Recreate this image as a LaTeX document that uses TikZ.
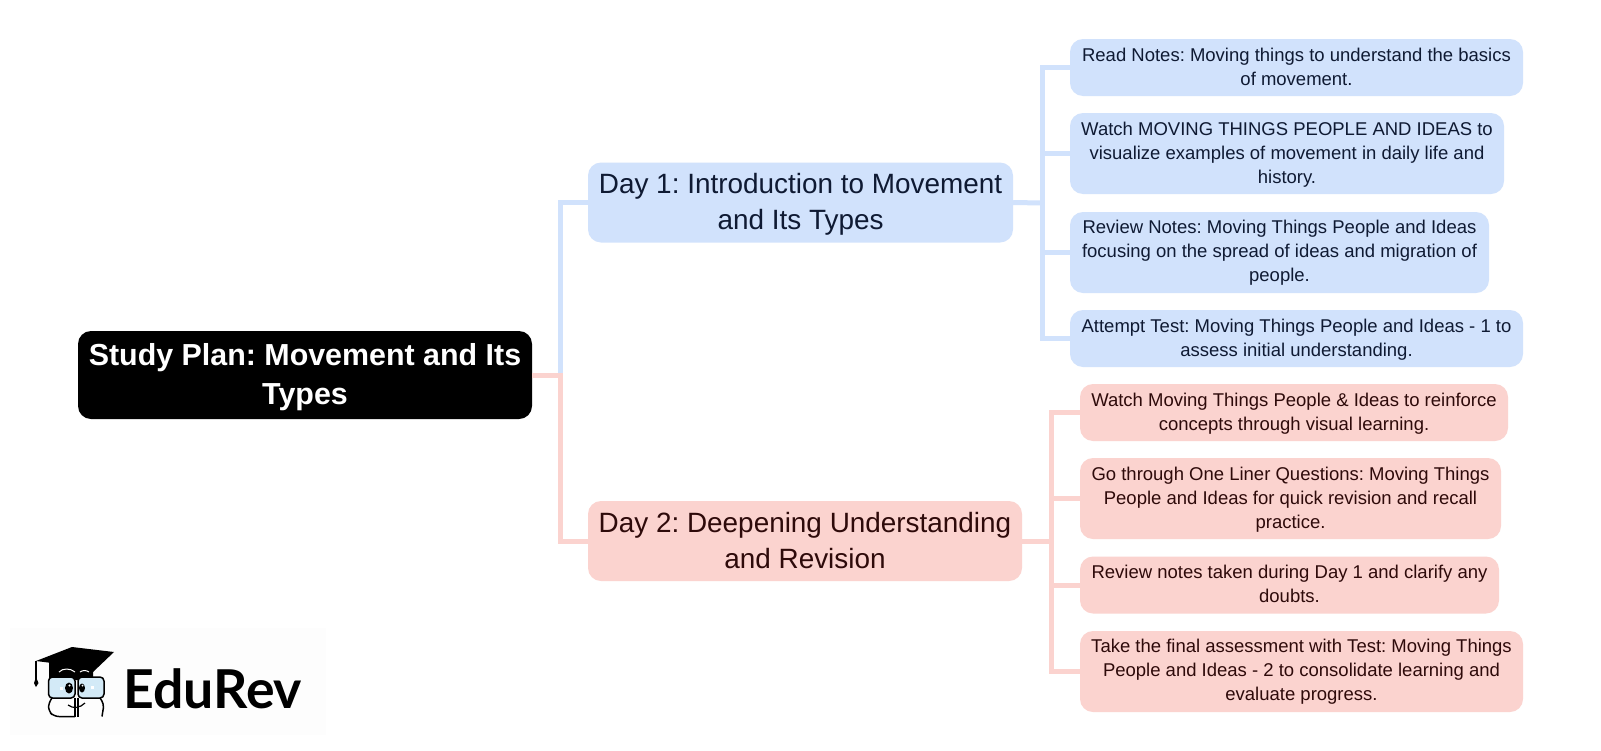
\documentclass[tikz,border=0pt]{standalone}
\usepackage{fontspec}
\setmainfont{Liberation Sans}
\newfontfamily\logofont{Lato}
\definecolor{bluefill}{HTML}{D1E2FC}
\definecolor{pinkfill}{HTML}{FBD3CF}
\definecolor{bluetext}{HTML}{0F1A33}
\definecolor{pinktext}{HTML}{2E0A0A}
\definecolor{logoback}{HTML}{FDFDFD}
\definecolor{lenscolor}{HTML}{D3EAF7}
\frenchspacing
\newcommand{\tophigh}[1]{\rule{0pt}{#1pt}}
\newcommand{\lowdeep}[1]{\rule[-#1pt]{0pt}{#1pt}}
\tikzset{
  rootbox/.style={fill=black,text=white,rounded corners=13pt,inner sep=0pt,align=center,font=\fontsize{30.4}{39}\selectfont\bfseries},
  bluebox/.style={fill=bluefill,text=bluetext,rounded corners=13pt,inner sep=0pt,align=center},
  pinkbox/.style={fill=pinkfill,text=pinktext,rounded corners=13pt,inner sep=0pt,align=center},
  daytext/.style={font=\fontsize{27.9}{36}\selectfont},
  leaftext/.style={font=\fontsize{18.5}{24}\selectfont},
  blueline/.style={draw=bluefill,line width=5pt},
  pinkline/.style={draw=pinkfill,line width=5pt},
  logoline/.style={draw=black,line width=1.5pt},
}
\begin{document}
\begin{tikzpicture}[x=1pt,y=-1pt]
\useasboundingbox (0,0) rectangle (1601,750);
\fill[white] (0,0) rectangle (1601,750);

\coordinate (trunkroot) at (560,375);
\coordinate (trunkone) at (1042,203);
\coordinate (trunktwo) at (1051,541);

\node[rootbox,minimum width=454pt,minimum height=88pt] (root) at (305,375) {\tophigh{26}Study Plan: Movement and Its\\Types};

\node[bluebox,daytext,minimum width=425pt,minimum height=80pt] (dayone) at (800.5,202.5) {\tophigh{24}Day 1: Introduction to Movement\\and Its Types};
\node[pinkbox,daytext,minimum width=434pt,minimum height=80pt] (daytwo) at (805,541) {Day 2: Deepening Understanding\\and Revision};

\node[bluebox,leaftext,minimum width=453pt,minimum height=57pt] (onea) at (1296.5,67.5) {Read Notes: Moving things to understand the basics\\of movement.\lowdeep{2}};
\node[bluebox,leaftext,minimum width=434pt,minimum height=81pt] (oneb) at (1287,153.5) {\tophigh{16}Watch MOVING THINGS PEOPLE AND IDEAS to\\visualize examples of movement in daily life and\\history.};
\node[bluebox,leaftext,minimum width=419pt,minimum height=81pt] (onec) at (1279.5,252.5) {Review Notes: Moving Things People and Ideas\\focusing on the spread of ideas and migration of\\people.};
\node[bluebox,leaftext,minimum width=453pt,minimum height=57pt] (oned) at (1296.5,338.5) {\tophigh{16}Attempt Test: Moving Things People and Ideas - 1 to\\assess initial understanding.};

\node[pinkbox,leaftext,minimum width=428pt,minimum height=57pt] (twoa) at (1294,412.5) {\tophigh{16}Watch Moving Things People \& Ideas to reinforce\\concepts through visual learning.};
\node[pinkbox,leaftext,minimum width=421pt,minimum height=81pt] (twob) at (1290.5,498.5) {\tophigh{16}Go through One Liner Questions: Moving Things\\People and Ideas for quick revision and recall\\practice.};
\node[pinkbox,leaftext,minimum width=419pt,minimum height=57pt] (twoc) at (1289.5,585) {Review notes taken during Day 1 and clarify any\\doubts.\lowdeep{2}};
\node[pinkbox,leaftext,minimum width=443pt,minimum height=81pt] (twod) at (1301.5,671.5) {Take the final assessment with Test: Moving Things\\People and Ideas - 2 to consolidate learning and\\evaluate progress.};

\draw[blueline] (trunkroot) |- (dayone.west);
\draw[pinkline] (root.east) -- (trunkroot) |- (daytwo.west);

\draw[blueline] (dayone.east) -- (trunkone);
\draw[blueline] (trunkone) |- (onea.west);
\draw[blueline] (trunkone) |- (oneb.west);
\draw[blueline] (trunkone) |- (onec.west);
\draw[blueline] (trunkone) |- (oned.west);

\draw[pinkline] (daytwo.east) -- (trunktwo);
\draw[pinkline] (trunktwo) |- (twoa.west);
\draw[pinkline] (trunktwo) |- (twob.west);
\draw[pinkline] (trunktwo) |- (twoc.west);
\draw[pinkline] (trunktwo) |- (twod.west);

% logo
\fill[logoback] (10,628) rectangle (326,735);
\fill[black] (49,662) -- (49,680) -- (93,680) -- (93,668) -- cycle;
\fill[black] (36,661) -- (72,647) -- (114,652) -- (93,672) -- (60,664) -- cycle;
\draw[white,line width=1pt] (59,672) .. controls (63,668) and (70,668) .. (75,672);
\draw[white,line width=1pt] (80,672) .. controls (83,670) and (86,670) .. (89,672);
\draw[black,line width=1.2pt] (36,661) -- (36,680);
\fill[black] (36,677) -- (38.5,683) -- (36,687) -- (34,683) -- cycle;
\draw[logoline,fill=lenscolor,rounded corners=4pt] (48.5,677) rectangle (75,698);
\draw[logoline,fill=lenscolor,rounded corners=4pt] (78,677) rectangle (104,698);
\draw[logoline,rounded corners=5pt] (75,716.5) -- (54,716.5) -- (48.5,711) -- (48.5,703) -- (52,698);
\draw[logoline,rounded corners=4pt] (102,716.5) -- (104,704) -- (100,698);
\draw[logoline] (75,698) -- (75,716.5);
\draw[logoline] (78,698) -- (78,716.5);
\draw[black,line width=1.2pt] (68,705) .. controls (73,709) and (80,708) .. (85,703);
\fill[black] (69,688) ellipse (4pt and 5.5pt);
\fill[black] (82,688) ellipse (3pt and 4.5pt);
\fill[white] (69.5,685.5) circle (1.1pt);
\fill[white] (82.5,685.5) circle (1pt);
\fill[white] (59.5,686.5) rectangle (62.5,689.5);
\fill[white] (90.5,685.5) rectangle (93.5,688.5);
\node[inner sep=0pt,anchor=west,text=black] (logotext) at (123,689) {\fontsize{53.6}{54}\selectfont\logofont\bfseries EduRev};
\end{tikzpicture}
\end{document}
